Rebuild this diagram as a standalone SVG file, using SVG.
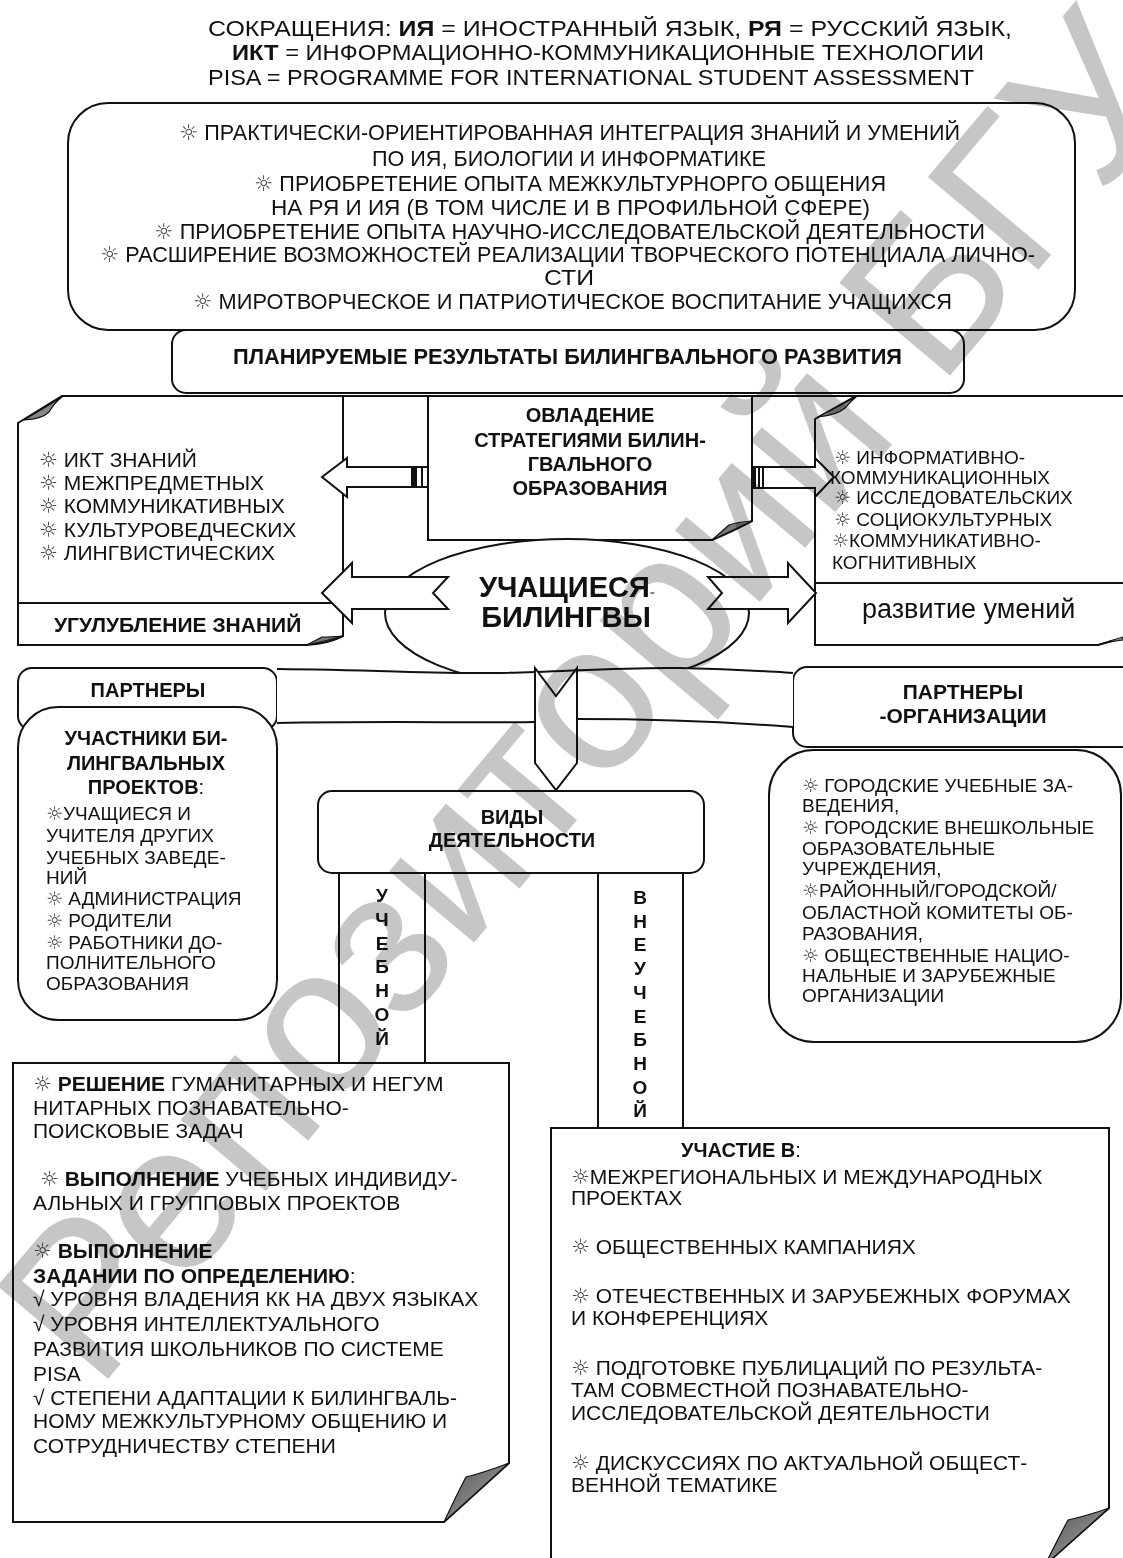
<svg xmlns="http://www.w3.org/2000/svg" width="1123" height="1558" viewBox="0 0 1123 1558">
<defs>
<style>
.t{font-family:"Liberation Sans",Arial,"DejaVu Sans",sans-serif;fill:#111}
.b{font-weight:bold}
.c{text-anchor:middle}
.s{font-family:"DejaVu Sans",sans-serif;fill:#444}
.box{fill:#fff;stroke:#111;stroke-width:2}
.ln{fill:none;stroke:#111;stroke-width:2}
.fold{fill:url(#fg);stroke:#111;stroke-width:1.2;stroke-linejoin:round}
.wm{font-family:"Liberation Sans",Arial,sans-serif;fill:#c6c6c6;mix-blend-mode:multiply}
</style>
<linearGradient id="fg" x1="0" y1="0" x2="1" y2="1"><stop offset="0" stop-color="#555"/><stop offset="1" stop-color="#aaa"/></linearGradient>
</defs>
<rect width="1123" height="1558" fill="#fff"/>

<g id="header">
<text class="t" x="208" y="36" font-size="22" textLength="804" lengthAdjust="spacingAndGlyphs">СОКРАЩЕНИЯ: <tspan class="b">ИЯ</tspan> = ИНОСТРАННЫЙ ЯЗЫК, <tspan class="b">РЯ</tspan> = РУССКИЙ ЯЗЫК,</text>
<text class="t" x="232" y="60" font-size="22" textLength="752" lengthAdjust="spacingAndGlyphs"><tspan class="b">ИКТ</tspan> = ИНФОРМАЦИОННО-КОММУНИКАЦИОННЫЕ ТЕХНОЛОГИИ</text>
<text class="t" x="208" y="85" font-size="22" textLength="766" lengthAdjust="spacingAndGlyphs">PISA = PROGRAMME FOR INTERNATIONAL STUDENT ASSESSMENT</text>
</g>

<g id="goals">
<rect class="box" x="68" y="103" width="1007" height="227" rx="40"/>
<text class="t" x="179" y="140" font-size="22" textLength="781" lengthAdjust="spacingAndGlyphs"><tspan class="s">☼</tspan> ПРАКТИЧЕСКИ-ОРИЕНТИРОВАННАЯ ИНТЕГРАЦИЯ ЗНАНИЙ И УМЕНИЙ</text>
<text class="t" x="372" y="166" font-size="22" textLength="394" lengthAdjust="spacingAndGlyphs">ПО ИЯ, БИОЛОГИИ И ИНФОРМАТИКЕ</text>
<text class="t" x="254" y="191" font-size="22" textLength="632" lengthAdjust="spacingAndGlyphs"><tspan class="s">☼</tspan> ПРИОБРЕТЕНИЕ ОПЫТА МЕЖКУЛЬТУРНОРГО ОБЩЕНИЯ</text>
<text class="t" x="271" y="215" font-size="22" textLength="599" lengthAdjust="spacingAndGlyphs">НА РЯ И ИЯ (В ТОМ ЧИСЛЕ И В ПРОФИЛЬНОЙ СФЕРЕ)</text>
<text class="t" x="154" y="239" font-size="22" textLength="831" lengthAdjust="spacingAndGlyphs"><tspan class="s">☼</tspan> ПРИОБРЕТЕНИЕ ОПЫТА НАУЧНО-ИССЛЕДОВАТЕЛЬСКОЙ ДЕЯТЕЛЬНОСТИ</text>
<text class="t" x="100" y="262" font-size="22" textLength="935" lengthAdjust="spacingAndGlyphs"><tspan class="s">☼</tspan> РАСШИРЕНИЕ ВОЗМОЖНОСТЕЙ РЕАЛИЗАЦИИ ТВОРЧЕСКОГО ПОТЕНЦИАЛА ЛИЧНО-</text>
<text class="t" x="544" y="285" font-size="22" textLength="50" lengthAdjust="spacingAndGlyphs">СТИ</text>
<text class="t" x="193" y="309" font-size="22" textLength="759" lengthAdjust="spacingAndGlyphs"><tspan class="s">☼</tspan> МИРОТВОРЧЕСКОЕ И ПАТРИОТИЧЕСКОЕ ВОСПИТАНИЕ УЧАЩИХСЯ</text>
</g>

<g id="planned">
<rect class="box" x="172" y="330" width="792" height="63" rx="14"/>
<text class="t b" x="233" y="364" font-size="22" textLength="669" lengthAdjust="spacingAndGlyphs">ПЛАНИРУЕМЫЕ РЕЗУЛЬТАТЫ БИЛИНГВАЛЬНОГО РАЗВИТИЯ</text>
</g>

<g id="knowledge">
<path class="box" d="M62,396 H343 V636 Q330,643 307,645 H18 V423 Z"/>
<path class="fold" d="M62,397 L24,420 Q42,419 49,412 Q55,402 62,397 Z"/>
<path class="fold" d="M307,645 Q326,641 343,636 Q330,637 322,637 Z"/>
<line class="ln" x1="18" y1="603" x2="343" y2="603"/>
<text class="t" x="39" y="467" font-size="21"><tspan class="s">☼</tspan> ИКТ ЗНАНИЙ</text>
<text class="t" x="39" y="490" font-size="21"><tspan class="s">☼</tspan> МЕЖПРЕДМЕТНЫХ</text>
<text class="t" x="39" y="513" font-size="21"><tspan class="s">☼</tspan> КОММУНИКАТИВНЫХ</text>
<text class="t" x="39" y="537" font-size="21"><tspan class="s">☼</tspan> КУЛЬТУРОВЕДЧЕСКИХ</text>
<text class="t" x="39" y="560" font-size="21"><tspan class="s">☼</tspan> ЛИНГВИСТИЧЕСКИХ</text>
<text class="t b" x="54" y="632" font-size="21">УГУЛУБЛЕНИЕ ЗНАНИЙ</text>
</g>

<g id="strategy">
<path class="box" d="M428,396 H752 V521 Q735,530 712,540 H428 Z"/>
<path class="fold" d="M712,540 L752,521 Q737,522 729,525 Z"/>
<text class="t b c" x="590" y="422" font-size="20">ОВЛАДЕНИЕ</text>
<text class="t b c" x="590" y="447" font-size="20">СТРАТЕГИЯМИ БИЛИН-</text>
<text class="t b c" x="590" y="471" font-size="20">ГВАЛЬНОГО</text>
<text class="t b c" x="590" y="495" font-size="20">ОБРАЗОВАНИЯ</text>
</g>

<g id="skills">
<path class="box" d="M856,396 H1130 V637 Q1112,641 1098,645 H815 V419 Z"/>
<path class="fold" d="M856,397 L818,417 Q837,415 845,408 Q851,401 856,397 Z"/>
<path class="fold" d="M1098,645 Q1112,640 1123,637 L1123,640 Q1110,641 1098,645 Z"/>
<line class="ln" x1="815" y1="583" x2="1123" y2="583"/>
<text class="t" x="834" y="464" font-size="19"><tspan class="s">☼</tspan> ИНФОРМАТИВНО-</text>
<text class="t" x="830" y="484" font-size="19">КОММУНИКАЦИОННЫХ</text>
<text class="t" x="834" y="504" font-size="19"><tspan class="s">☼</tspan> ИССЛЕДОВАТЕЛЬСКИХ</text>
<text class="t" x="834" y="526" font-size="19"><tspan class="s">☼</tspan> СОЦИОКУЛЬТУРНЫХ</text>
<text class="t" x="832" y="547" font-size="19"><tspan class="s">☼</tspan>КОММУНИКАТИВНО-</text>
<text class="t" x="832" y="569" font-size="19">КОГНИТИВНЫХ</text>
<text class="t" x="862" y="618" font-size="27">развитие умений</text>
</g>

<g id="students">
<ellipse class="box" cx="567" cy="613" rx="182" ry="74"/>
</g>

<g id="partners">
<rect class="box" x="18" y="668" width="259" height="62" rx="14"/>
<text class="t b c" x="148" y="697" font-size="20">ПАРТНЕРЫ</text>
</g>

<g id="participants">
<rect class="box" x="18" y="707" width="259" height="313" rx="40"/>
<text class="t b c" x="146" y="745" font-size="20">УЧАСТНИКИ БИ-</text>
<text class="t b c" x="146" y="770" font-size="20">ЛИНГВАЛЬНЫХ</text>
<text class="t b c" x="146" y="794" font-size="20">ПРОЕКТОВ<tspan font-weight="normal">:</tspan></text>
<text class="t" x="46" y="820" font-size="19"><tspan class="s">☼</tspan>УЧАЩИЕСЯ И</text>
<text class="t" x="46" y="842" font-size="19">УЧИТЕЛЯ ДРУГИХ</text>
<text class="t" x="46" y="864" font-size="19">УЧЕБНЫХ ЗАВЕДЕ-</text>
<text class="t" x="46" y="884" font-size="19">НИЙ</text>
<text class="t" x="46" y="905" font-size="19"><tspan class="s">☼</tspan> АДМИНИСТРАЦИЯ</text>
<text class="t" x="46" y="927" font-size="19"><tspan class="s">☼</tspan> РОДИТЕЛИ</text>
<text class="t" x="46" y="949" font-size="19"><tspan class="s">☼</tspan> РАБОТНИКИ ДО-</text>
<text class="t" x="46" y="969" font-size="19">ПОЛНИТЕЛЬНОГО</text>
<text class="t" x="46" y="990" font-size="19">ОБРАЗОВАНИЯ</text>
</g>

<g id="partner-orgs">
<rect class="box" x="793" y="667" width="350" height="80" rx="14"/>
<text class="t b c" x="963" y="699" font-size="21">ПАРТНЕРЫ</text>
<text class="t b c" x="963" y="723" font-size="21">-ОРГАНИЗАЦИИ</text>
</g>

<g id="organizations">
<rect class="box" x="769" y="750" width="352" height="292" rx="45"/>
<text class="t" x="802" y="792" font-size="19"><tspan class="s">☼</tspan> ГОРОДСКИЕ УЧЕБНЫЕ ЗА-</text>
<text class="t" x="802" y="812" font-size="19">ВЕДЕНИЯ,</text>
<text class="t" x="802" y="834" font-size="19"><tspan class="s">☼</tspan> ГОРОДСКИЕ ВНЕШКОЛЬНЫЕ</text>
<text class="t" x="802" y="855" font-size="19">ОБРАЗОВАТЕЛЬНЫЕ</text>
<text class="t" x="802" y="875" font-size="19">УЧРЕЖДЕНИЯ,</text>
<text class="t" x="802" y="897" font-size="19"><tspan class="s">☼</tspan>РАЙОННЫЙ/ГОРОДСКОЙ/</text>
<text class="t" x="802" y="919" font-size="19">ОБЛАСТНОЙ КОМИТЕТЫ ОБ-</text>
<text class="t" x="802" y="940" font-size="19">РАЗОВАНИЯ,</text>
<text class="t" x="802" y="962" font-size="19"><tspan class="s">☼</tspan> ОБЩЕСТВЕННЫЕ НАЦИО-</text>
<text class="t" x="802" y="982" font-size="19">НАЛЬНЫЕ И ЗАРУБЕЖНЫЕ</text>
<text class="t" x="802" y="1002" font-size="19">ОРГАНИЗАЦИИ</text>
</g>

<g id="activities">
<rect class="box" x="318" y="791" width="386" height="82" rx="14"/>
<text class="t b c" x="512" y="824" font-size="20">ВИДЫ</text>
<text class="t b c" x="512" y="847" font-size="20">ДЕЯТЕЛЬНОСТИ</text>
</g>

<g id="academic">
<path class="box" d="M13,1063 H509 V1463 L444,1522 H13 Z"/>
<path class="fold" d="M509,1463 L444,1522 Q458,1492 466,1477 Q486,1472 509,1463 Z"/>
<text class="t" x="33" y="1091" font-size="21"><tspan class="s">☼</tspan> <tspan class="b">РЕШЕНИЕ</tspan> ГУМАНИТАРНЫХ И НЕГУМ</text>
<text class="t" x="33" y="1115" font-size="21">НИТАРНЫХ ПОЗНАВАТЕЛЬНО-</text>
<text class="t" x="33" y="1138" font-size="21">ПОИСКОВЫЕ ЗАДАЧ</text>
<text class="t" x="40" y="1186" font-size="21"><tspan class="s">☼</tspan> <tspan class="b">ВЫПОЛНЕНИЕ</tspan> УЧЕБНЫХ ИНДИВИДУ-</text>
<text class="t" x="33" y="1210" font-size="21">АЛЬНЫХ И ГРУППОВЫХ ПРОЕКТОВ</text>
<text class="t" x="33" y="1258" font-size="21"><tspan class="s">☼</tspan> <tspan class="b">ВЫПОЛНЕНИЕ</tspan></text>
<text class="t b" x="33" y="1283" font-size="21">ЗАДАНИИ ПО ОПРЕДЕЛЕНИЮ<tspan font-weight="normal">:</tspan></text>
<text class="t" x="33" y="1306" font-size="21">√ УРОВНЯ ВЛАДЕНИЯ КК НА ДВУХ ЯЗЫКАХ</text>
<text class="t" x="33" y="1331" font-size="21">√ УРОВНЯ ИНТЕЛЛЕКТУАЛЬНОГО</text>
<text class="t" x="33" y="1356" font-size="21">РАЗВИТИЯ ШКОЛЬНИКОВ ПО СИСТЕМЕ</text>
<text class="t" x="33" y="1381" font-size="21">PISA</text>
<text class="t" x="33" y="1405" font-size="21">√ СТЕПЕНИ АДАПТАЦИИ К БИЛИНГВАЛЬ-</text>
<text class="t" x="33" y="1428" font-size="21">НОМУ МЕЖКУЛЬТУРНОМУ ОБЩЕНИЮ И</text>
<text class="t" x="33" y="1453" font-size="21">СОТРУДНИЧЕСТВУ СТЕПЕНИ</text>
</g>

<g id="extracurricular">
<path class="box" d="M551,1570 V1128 H1109 V1508 L1045,1565"/>
<path class="fold" d="M1109,1508 L1045,1565 Q1060,1535 1068,1520 Q1090,1515 1109,1508 Z"/>
<text class="t b" x="681" y="1157" font-size="20">УЧАСТИЕ В<tspan font-weight="normal">:</tspan></text>
<text class="t" x="571" y="1184" font-size="21"><tspan class="s">☼</tspan>МЕЖРЕГИОНАЛЬНЫХ И МЕЖДУНАРОДНЫХ</text>
<text class="t" x="571" y="1205" font-size="21">ПРОЕКТАХ</text>
<text class="t" x="571" y="1254" font-size="21"><tspan class="s">☼</tspan> ОБЩЕСТВЕННЫХ КАМПАНИЯХ</text>
<text class="t" x="571" y="1303" font-size="21"><tspan class="s">☼</tspan> ОТЕЧЕСТВЕННЫХ И ЗАРУБЕЖНЫХ ФОРУМАХ</text>
<text class="t" x="571" y="1325" font-size="21">И КОНФЕРЕНЦИЯХ</text>
<text class="t" x="571" y="1375" font-size="21"><tspan class="s">☼</tspan> ПОДГОТОВКЕ ПУБЛИЦАЦИЙ ПО РЕЗУЛЬТА-</text>
<text class="t" x="571" y="1397" font-size="21">ТАМ СОВМЕСТНОЙ ПОЗНАВАТЕЛЬНО-</text>
<text class="t" x="571" y="1420" font-size="21">ИССЛЕДОВАТЕЛЬСКОЙ ДЕЯТЕЛЬНОСТИ</text>
<text class="t" x="571" y="1470" font-size="21"><tspan class="s">☼</tspan> ДИСКУССИЯХ ПО АКТУАЛЬНОЙ ОБЩЕСТ-</text>
<text class="t" x="571" y="1492" font-size="21">ВЕННОЙ ТЕМАТИКЕ</text>
</g>

<g id="connectors">
<line class="ln" x1="343" y1="396" x2="428" y2="396"/>
<line class="ln" x1="752" y1="396" x2="856" y2="396"/>
<path d="M277,669 C380,670 440,674 500,673 S620,667 680,668 S760,671 793,673 L793,727 C730,722 660,719 577,719 S470,723 380,721 L277,723 Z" fill="#fff"/>
<path class="ln" d="M277,669 C380,670 440,674 500,673 S620,667 680,668 S760,671 793,673"/>
<path class="ln" d="M277,723 C380,721 470,723 535,722"/>
<path class="ln" d="M577,719 C660,719 730,722 793,727"/>
<polygon class="box" points="535,668 556,696 577,668 577,763 556,790 535,763"/>
<polygon class="box" points="322,477 347,458 347,467 412,467 412,487 347,487 347,497"/>
<rect class="box" x="412" y="467" width="16" height="20"/>
<rect x="413" y="467" width="4" height="20" fill="#111"/>
<line class="ln" x1="422" y1="467" x2="422" y2="487" stroke-width="1.5"/>
<polygon class="box" points="763,467 815,467 815,458 834,477 815,497 815,488 763,488"/>
<rect class="box" x="752" y="467" width="11" height="21"/>
<rect x="752" y="467" width="4" height="21" fill="#111"/>
<line class="ln" x1="759" y1="467" x2="759" y2="488" stroke-width="1.5"/>
<polygon class="box" points="322,593 352,563 352,577 448,577 433,593 448,609 352,609 352,623"/>
<polygon class="box" points="708,577 788,577 788,563 816,593 788,623 788,609 708,609 722,593"/>
<line class="ln" x1="339" y1="873" x2="339" y2="1063"/>
<line class="ln" x1="425" y1="873" x2="425" y2="1063"/>
<line class="ln" x1="598" y1="873" x2="598" y2="1128"/>
<line class="ln" x1="683" y1="873" x2="683" y2="1128"/>
</g>

<g id="labels">
<text class="t b c" x="567" y="597" font-size="29">УЧАЩИЕСЯ<tspan font-size="16" fill="#888">-</tspan></text>
<text class="t b c" x="566" y="627" font-size="29">БИЛИНГВЫ</text>
<g class="t b c" font-size="19">
<text x="382" y="902">У</text><text x="382" y="926">Ч</text><text x="382" y="950">Е</text><text x="382" y="973">Б</text><text x="382" y="997">Н</text><text x="382" y="1021">О</text><text x="382" y="1045">Й</text>
<text x="640" y="904">В</text><text x="640" y="928">Н</text><text x="640" y="951">Е</text><text x="640" y="975">У</text><text x="640" y="999">Ч</text><text x="640" y="1023">Е</text><text x="640" y="1046">Б</text><text x="640" y="1070">Н</text><text x="640" y="1094">О</text><text x="640" y="1117">Й</text>
</g>
</g>

<g id="watermark">
<text class="wm" x="97" y="1392" font-size="210" transform="rotate(-50 97 1392)">Репозиторий БГУ</text>
</g>
</svg>
